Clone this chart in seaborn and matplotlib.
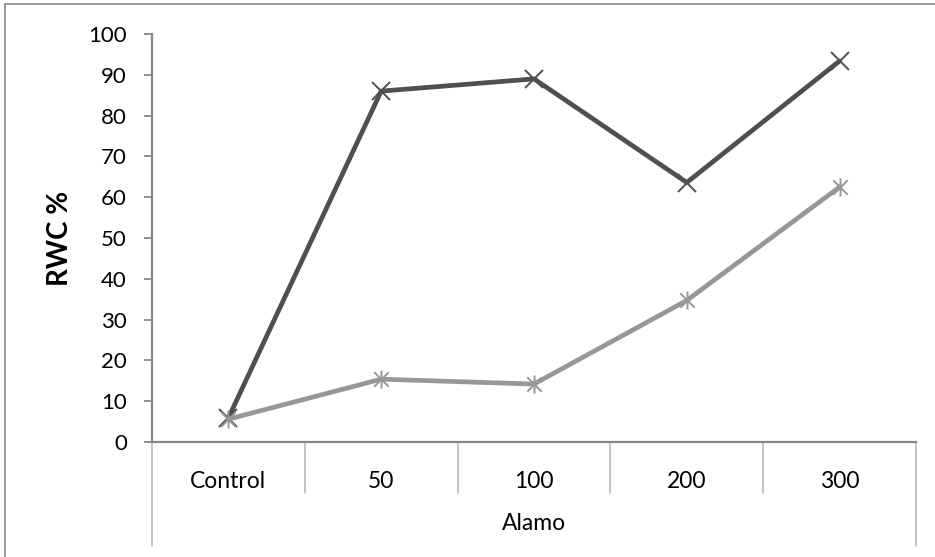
import numpy as np
import pandas as pd
import matplotlib
matplotlib.use("Agg")
import matplotlib.pyplot as plt
import seaborn as sns
from matplotlib.path import Path
from matplotlib.lines import Line2D
import matplotlib.transforms as mtransforms

# ---- data ----
categories = ["Control", "50", "100", "200", "300"]
group_label = "Alamo"
series_dark = [5.9, 86.0, 89.0, 63.6, 93.4]
series_light = [5.6, 15.4, 14.2, 34.7, 62.5]
y_ticks = list(range(0, 101, 10))

sns.set_theme(style="white")
plt.rcParams['font.family'] = ['Lato', 'DejaVu Sans']

fig = plt.figure(figsize=(9.35, 5.57), dpi=100)
ax = fig.add_axes([152/935, 1-442/557, 764/935, 408/557])

pos = np.arange(len(categories))
df = pd.DataFrame({"pos": np.concatenate([pos, pos]),
                   "value": series_dark + series_light,
                   "series": ["dark"]*5 + ["light"]*5})

star = Path([(-1, -1), (1, 1), (-1, 1), (1, -1), (0, -1.25), (0, 1.25)],
            [Path.MOVETO, Path.LINETO, Path.MOVETO, Path.LINETO, Path.MOVETO, Path.LINETO])

dark_c = "#4f4f4f"
light_c = "#979797"
sns.lineplot(data=df[df.series == "dark"], x="pos", y="value", color=dark_c,
             linewidth=3.4, marker="x", markersize=13, markeredgecolor=dark_c,
             markeredgewidth=1.4, ax=ax, legend=False)
sns.lineplot(data=df[df.series == "light"], x="pos", y="value", color=light_c,
             linewidth=3.4, marker=star, markersize=13, markeredgecolor=light_c,
             markeredgewidth=1.4, ax=ax, legend=False)

ax.set_xlim(-0.5, len(categories) - 0.5)
ax.set_ylim(0, 100)
ax.set_yticks(y_ticks)
ax.set_yticklabels([str(t) for t in y_ticks])
ax.set_xticks(pos)
ax.set_xticklabels(categories)

spine_c = "#878787"
for s in ["top", "right"]:
    ax.spines[s].set_visible(False)
for s in ["left", "bottom"]:
    ax.spines[s].set_color(spine_c)
    ax.spines[s].set_linewidth(1.6)

ax.tick_params(axis="y", which="major", left=True, length=6, width=1.3,
               color=spine_c, pad=12, labelsize=16, labelcolor="black")
ax.tick_params(axis="x", which="major", bottom=False, length=0, pad=21,
               labelsize=16.5, labelcolor="black")

# category dividers
trans = mtransforms.blended_transform_factory(ax.transData, ax.transAxes)
div_c = "#b4b4b4"
for i in range(len(categories) + 1):
    xb = i - 0.5
    ylow = -0.255 if i in (0, len(categories)) else -0.125
    ax.add_line(Line2D([xb, xb], [0, ylow], transform=trans, color=div_c,
                       linewidth=1.1, clip_on=False))

ax.set_xlabel(group_label, fontsize=16.5, color="black")
ax.xaxis.set_label_coords(0.5, -(523-442)/408)
ax.xaxis.label.set_va("center")

ax.set_ylabel("RWC %", fontsize=20, fontweight="bold", color="black")
ax.yaxis.set_label_coords((60-152)/764, (442-238)/408)
ax.yaxis.label.set_va("center")

# chart frame (partially visible)
frame_c = "#8a8a8a"
fig.add_artist(Line2D([5/935, 1.0], [1-4/557, 1-4/557], transform=fig.transFigure,
                      color=frame_c, linewidth=1.2))
fig.add_artist(Line2D([5/935, 5/935], [0.0, 1-4/557], transform=fig.transFigure,
                      color=frame_c, linewidth=1.2))

fig.savefig("out.png", dpi=100)
